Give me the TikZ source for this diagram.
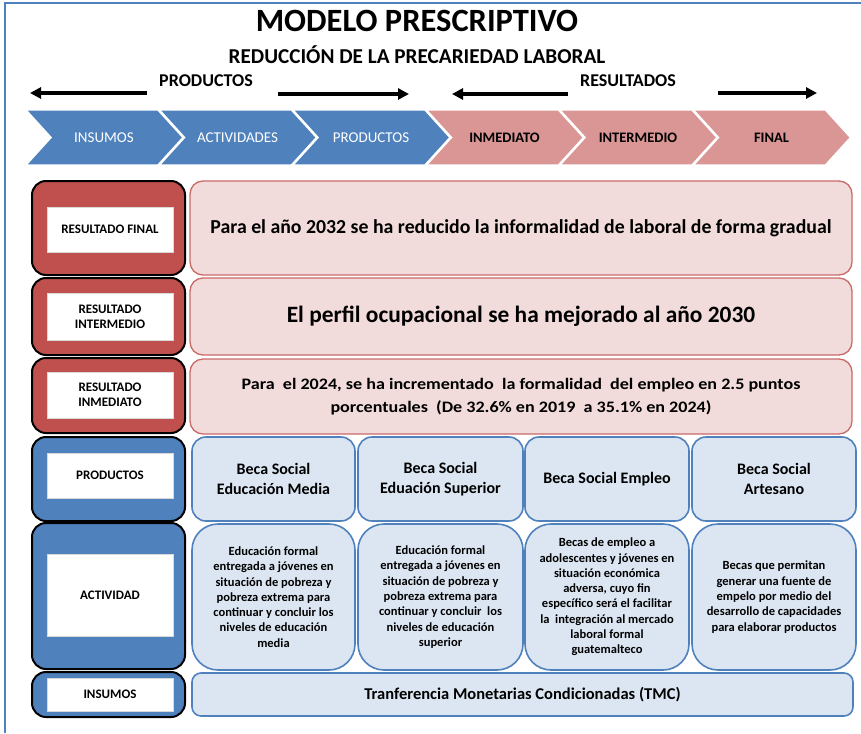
\documentclass[tikz,border=0pt]{standalone}
\usepackage{fontspec}
\setmainfont{Carlito}
\definecolor{OfficeBlue}{RGB}{79,129,189}
\definecolor{OfficeRed}{RGB}{192,80,77}
\definecolor{SoftRed}{RGB}{217,150,148}
\definecolor{PaleRed}{RGB}{242,220,219}
\definecolor{PaleBlue}{RGB}{220,230,242}
\usetikzlibrary{arrows.meta}
\tikzset{
  chevblu/.style={fill=OfficeBlue, draw=white, line width=1.5pt},
  chevred/.style={fill=SoftRed, draw=white, line width=1.5pt},
  chevtextblu/.style={font=\fontsize{15}{17}\selectfont, white},
  chevtextred/.style={font=\fontsize{14.5}{17}\selectfont\bfseries, black},
  tag/.style={draw=black, line width=2pt, rounded corners=14pt, minimum width=153pt, inner sep=0pt},
  tagtext/.style={fill=white, draw=black!15, minimum width=126pt, inner sep=0pt, align=center,
    font=\fontsize{13}{15}\selectfont\bfseries},
  resbox/.style={draw=OfficeRed!85, line width=1.3pt, fill=PaleRed, rounded corners=13pt,
    minimum width=662pt, inner sep=0pt, align=center},
  prodbox/.style={draw=OfficeBlue, line width=1.6pt, fill=PaleBlue, rounded corners=14pt,
    inner sep=0pt, align=center},
  bigarrow/.style={->, line width=3.2pt}
}

\begin{document}
\begin{tikzpicture}[x=1pt, y=-1pt, >={Triangle[length=11pt,width=11pt]}]
        \useasboundingbox (0,0) rectangle (861,733);
        % page frame
        \draw[OfficeBlue, line width=1.5pt] (5,733) -- (5,3) -- (861,3);
        % titles
        \node[font=\fontsize{32.5}{36}\selectfont\bfseries] (title) at (417,21) {MODELO PRESCRIPTIVO};
        \node[font=\fontsize{21.2}{24}\selectfont\bfseries] (subtitle) at (417,55) {REDUCCIÓN DE LA PRECARIEDAD LABORAL};
        \node[font=\fontsize{18}{22}\selectfont\bfseries] (lblprod) at (206,81) {PRODUCTOS};
        \node[font=\fontsize{18}{22}\selectfont\bfseries] (lblres) at (628,81) {RESULTADOS};
        % direction arrows
        \draw[bigarrow] (147,93) -- (30,93);
        \draw[bigarrow] (278,94) -- (409,94);
        \draw[bigarrow] (568,94) -- (452,94);
        \draw[bigarrow] (718,93) -- (817,93);
        % chain of chevrons
        \foreach \i/\lbl/\kind in {0/INSUMOS/blu, 1/ACTIVIDADES/blu, 2/PRODUCTOS/blu, 3/INMEDIATO/red, 4/INTERMEDIO/red, 5/FINAL/red} {
            \pgfmathsetmacro\L{26+133.5*\i}
            \draw[chev\kind] (\L,110) -- ++(132,0) -- ++(25,27.5) -- ++(-25,27.5) -- ++(-132,0) -- ++(25,-27.5) -- cycle;
            \node[chevtext\kind] (chev\i) at (\L+78,137.5) {\lbl};
        }
        % row tags on the left
        \foreach \n/\y/\h/\iy/\ih/\col/\txt in {
            final/228/94/229.5/45/OfficeRed/{RESULTADO FINAL},
            inter/316.5/77/316.5/47/OfficeRed/{RESULTADO\\INTERMEDIO},
            inmed/395.5/75/395/46/OfficeRed/{RESULTADO\\INMEDIATO},
            prod/479/84/475.5/45/OfficeBlue/{PRODUCTOS},
            act/596/146/595/82/OfficeBlue/{ACTIVIDAD},
            ins/694.5/45/694.5/33/OfficeBlue/{INSUMOS}} {
            \node[tag, fill=\col, minimum height=\h pt] (tag\n) at (108.5,\y) {};
            \node[tagtext, minimum height=\ih pt] (tagtxt\n) at (110,\iy) {\txt};
        }
        % results
        \node[resbox, minimum height=94pt, font=\fontsize{19.8}{23}\selectfont\bfseries] (resfinal) at (521,228)
            {Para el año 2032 se ha reducido la informalidad de laboral de forma gradual};
        \node[resbox, minimum height=77pt, font=\fontsize{23.4}{27}\selectfont\bfseries] (resinter) at (521,316.5)
            {El perfil ocupacional se ha mejorado al año 2030};
        \node[resbox, minimum height=75pt, font=\fontsize{16}{23.5}\selectfont\bfseries\addfontfeatures{FakeStretch=1.13}] (resinmed) at (521,396.5)
            {Para\ \ el 2024, se ha incrementado\ \ la formalidad\ \ del empleo en 2.5 puntos\\
             porcentuales\ \ (De 32.6\% en 2019\ \ a 35.1\% en 2024)};
        % products and activities
        \foreach \n/\x/\w/\prod/\act in {
            1/273.5/163/{Beca Social\\Educación Media}/{Educación formal\\entregada a jóvenes en\\situación de pobreza y\\pobreza extrema para\\continuar y concluir los\\niveles de educación\\media},
            2/440.5/165/{Beca Social\\Eduación Superior}/{Educación formal\\entregada a jóvenes en\\situación de pobreza y\\pobreza extrema para\\continuar y concluir\ \ los\\niveles de educación\\superior},
            3/607/164/{Beca Social Empleo}/{Becas de empleo a\\adolescentes y jóvenes en\\situación económica\\adversa, cuyo fin\\específico será el facilitar\\la\ \ integración al mercado\\laboral formal\\guatemalteco},
            4/774/164/{Beca Social\\Artesano}/{Becas que permitan\\generar una fuente de\\empelo por medio del\\desarrollo de capacidades\\para elaborar productos}} {
            \node[prodbox, minimum width=\w pt, minimum height=84pt, font=\fontsize{16}{20.5}\selectfont\bfseries] (prod\n) at (\x,479) {\prod};
            \node[prodbox, rounded corners=26pt, minimum width=\w pt, minimum height=146pt, font=\fontsize{12.5}{15.3}\selectfont\bfseries] (act\n) at (\x,597) {\act};
        }
        % inputs
        \node[prodbox, rounded corners=9pt, minimum width=661pt, minimum height=43pt, font=\fontsize{16.5}{19}\selectfont\bfseries] (insumos) at (522.5,694.5)
            {Tranferencia Monetarias Condicionadas (TMC)};
    \end{tikzpicture}
\end{document}
